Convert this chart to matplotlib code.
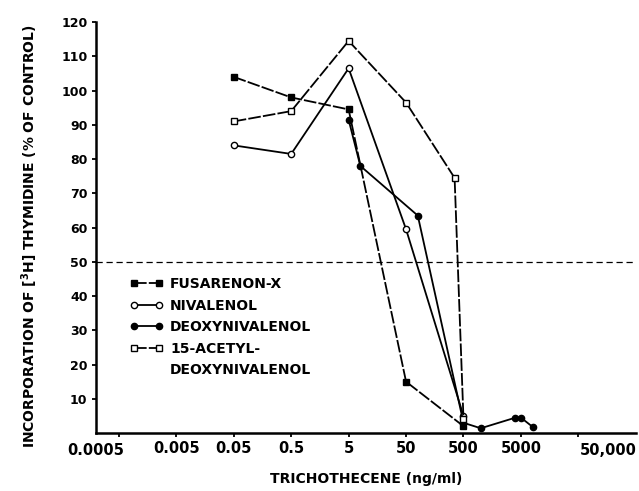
import numpy as np
import matplotlib
matplotlib.use("Agg")
import matplotlib.pyplot as plt
from matplotlib.lines import Line2D

# values
fus_x = [0.05, 0.5, 5, 50, 500]
fus_y = [104, 98, 94.5, 15, 2]

niv_x = [0.05, 0.5, 5, 50, 500]
niv_y = [84, 81.5, 106.5, 59.5, 5]

don_x = [5, 8, 80, 500, 1000, 4000, 5000, 8000]
don_y = [91.5, 78, 63.5, 3, 1.4, 4.5, 4.5, 1.8]

ace_x = [0.05, 0.5, 5, 50, 350, 500]
ace_y = [91, 94, 114.5, 96.5, 74.5, 4]

xticks = [0.0005, 0.005, 0.05, 0.5, 5, 50, 500, 5000, 50000]
xtick_labels = ["0.0005", "0.005", "0.05", "0.5", "5", "50", "500", "5000", "50,000"]
yticks = [10, 20, 30, 40, 50, 60, 70, 80, 90, 100, 110, 120]

plt.rcParams['font.family'] = ['DejaVu Sans']
plt.rcParams['font.weight'] = 'bold'

fig = plt.figure(figsize=(6.39, 4.91), dpi=100, facecolor='w')
ax = fig.add_axes([0.150, 0.118, 0.845, 0.837])

lw = 1.3
dash = (0, (7, 1.2))
l1, = ax.plot(fus_x, fus_y, color='k', lw=lw, ls=dash, marker='s', ms=4,
              mfc='k', mec='k')
l2, = ax.plot(niv_x, niv_y, color='k', lw=lw, marker='o', ms=4.5,
              mfc='w', mec='k', mew=1)
l3, = ax.plot(don_x, don_y, color='k', lw=lw, marker='o', ms=4.5,
              mfc='k', mec='k')
l4, = ax.plot(ace_x, ace_y, color='k', lw=lw, ls=dash, marker='s', ms=4,
              mfc='w', mec='k', mew=1)

ax.axhline(50, color='k', lw=0.9, ls=(0, (5, 3)))

ax.set_xscale('log')
ax.set_xlim(10 ** -3.702, 5e5)
ax.set_ylim(0, 120)

ax.xaxis.set_minor_locator(matplotlib.ticker.NullLocator())
ax.set_xticks(xticks)
ax.set_xticklabels([""] + xtick_labels[1:-1] + [""], fontsize=10.5, fontweight='bold')
ax.set_yticks(yticks)
ax.set_yticklabels([str(v) for v in yticks], fontsize=9, fontweight='bold')
ax.tick_params(direction='out', length=3, width=1.3, pad=3)

# outer labels sit off their ticks in the original
ax.text(10 ** -3.702, -0.025, "0.0005", transform=ax.get_xaxis_transform(),
        ha='center', va='top', fontsize=10.5, fontweight='bold')
ax.text(10 ** 5.211, -0.025, "50,000", transform=ax.get_xaxis_transform(),
        ha='center', va='top', fontsize=10.5, fontweight='bold')

for s in ['top', 'right']:
    ax.spines[s].set_visible(False)
for s in ['left', 'bottom']:
    ax.spines[s].set_linewidth(1.8)

ax.set_xlabel("TRICHOTHECENE (ng/ml)", fontsize=10, fontweight='bold', labelpad=11)
ax.set_ylabel("INCORPORATION OF [$\\mathbf{^{3}}$H] THYMIDINE (% OF CONTROL)",
              fontsize=10, fontweight='bold')
ax.yaxis.set_label_coords(-0.104, 0.479)

blank = Line2D([], [], ls='none', marker=None)
leg = ax.legend([l1, l2, l3, l4, blank],
                ['FUSARENON-X', 'NIVALENOL', 'DEOXYNIVALENOL', '15-ACETYL-',
                 'DEOXYNIVALENOL'],
                loc='upper left', bbox_to_anchor=(0.063, 0.38), frameon=False,
                fontsize=10, handlelength=2.4, handletextpad=0.5, numpoints=2,
                labelspacing=0.55, borderaxespad=0, borderpad=0)
for t in leg.get_texts():
    t.set_fontweight('bold')

fig.savefig("out.png", dpi=100)
